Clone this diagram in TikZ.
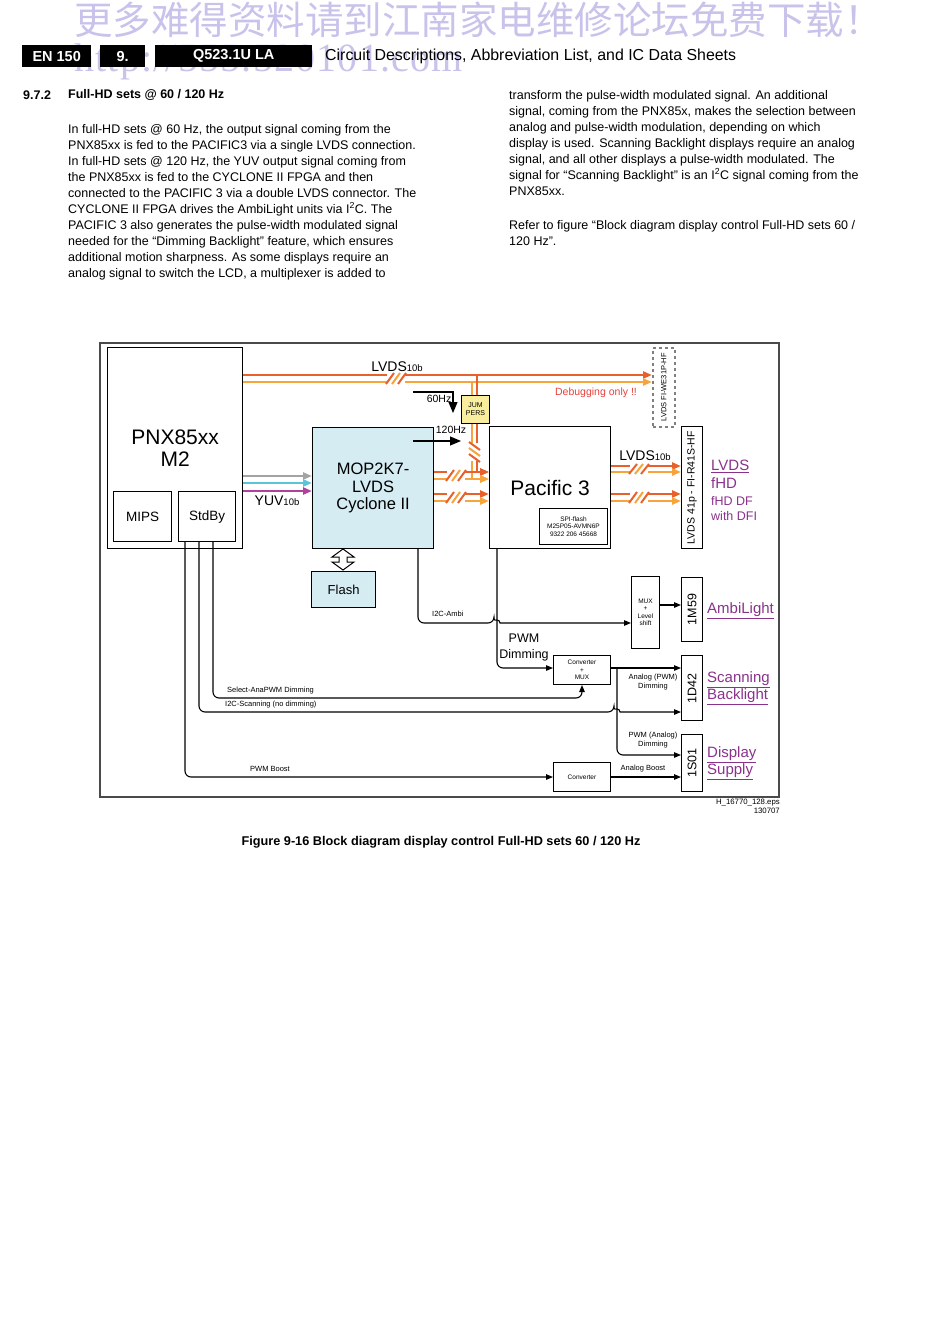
\documentclass[tikz,border=0pt]{standalone}
\usepackage{fontspec}
\setmainfont{Liberation Sans}
\newfontfamily\cjkfont{Noto Sans CJK SC}
\newfontfamily\wmfont[LetterSpace=3]{Liberation Serif}
\usetikzlibrary{arrows.meta,calc,positioning}
\definecolor{lvred}{HTML}{E8612C}
\definecolor{lvorg}{HTML}{F6A43B}
\definecolor{mopblue}{HTML}{D5ECF3}
\definecolor{jmpyel}{HTML}{F8EE9E}
\definecolor{linkpurple}{HTML}{8A318C}
\definecolor{dbgred}{HTML}{E5403A}
\definecolor{yuvgray}{HTML}{A3A3A3}
\definecolor{yuvcyan}{HTML}{5CC4DA}
\definecolor{yuvmag}{HTML}{B0429E}
\definecolor{wmark}{HTML}{C9C2EB}
\definecolor{framegray}{HTML}{4A4A4A}

% bus break marks on a double line (x, upper y, lower y)
\newcommand{\buscut}[3]{%
  \fill[white] (#1-9,#2-2) rectangle (#1+9,#3+2);
  \foreach \dx/\cc in {-6/lvred,0/lvorg,6/lvred}
    \draw[\cc, line width=2pt] (#1+\dx-4,#3+2) -- (#1+\dx+4,#2-2);
}
% same for a vertical double line (left x, right x, y)
\newcommand{\vbuscut}[3]{%
  \fill[white] (#1-2,#3-9) rectangle (#2+2,#3+9);
  \foreach \dy/\cc in {-6/lvred,0/lvorg,6/lvred}
    \draw[\cc, line width=2pt] (#1-3,#3+\dy-4) -- (#2+3,#3+\dy+4);
}

\begin{document}
\begin{tikzpicture}[x=1pt, y=-1pt,
  blk/.style={draw, line width=1.2pt, anchor=north west, inner sep=0pt, align=center},
  sig/.style={line width=1.1pt, rounded corners=6pt},
  tip/.style={-{Triangle[length=7pt,width=5.5pt]}},
  bigtip/.style={-{Triangle[length=11pt,width=9pt]}},
  lvr/.style={draw=lvred, line width=2.3pt},
  lvo/.style={draw=lvorg, line width=2.3pt},
  bustip/.style={-{Triangle[length=9pt,width=7pt]}},
  lbl/.style={inner sep=0pt, font=\fontsize{7.5}{9}\selectfont},
  tiny/.style={font=\fontsize{6.5}{7.5}\selectfont},
  purp/.style={text=linkpurple, anchor=west, inner sep=0pt, font=\fontsize{15}{15}\selectfont},
  hdbox/.style={fill=black, text=white, anchor=north west, inner sep=0pt, minimum height=22,
    font=\bfseries\fontsize{14.5}{14.5}\selectfont},
  body/.style={anchor=north west, inner sep=0pt, align=left, font=\fontsize{12.5}{16}\selectfont}
]
\useasboundingbox (0,0) rectangle (950,1343);

% watermark
\node[anchor=west, inner sep=0pt, text=wmark, font=\cjkfont\fontsize{38.5}{38.5}\selectfont] (wmcn) at (74,20) {更多难得资料请到江南家电维修论坛免费下载！};
\node[anchor=west, inner sep=0pt, text=wmark, font=\wmfont\fontsize{40}{40}\selectfont] (wmurl) at (74,62) {http://555.520101.com};

% page header
\node[hdbox, minimum width=69] (pgno) at (22,45) {EN 150};
\node[hdbox, minimum width=45] (chap) at (100,45) {9.};
\node[hdbox, minimum width=157] (model) at (155,45) {Q523.1U LA};
\node[anchor=west, inner sep=0pt, font=\fontsize{15.9}{16}\selectfont] (title) at (325,56) {Circuit Descriptions, Abbreviation List, and IC Data Sheets};

\node[anchor=west, inner sep=0pt, font=\bfseries\fontsize{12.5}{13}\selectfont] (secno) at (23,95) {9.7.2};
\node[anchor=west, inner sep=0pt, font=\bfseries\fontsize{12.5}{13}\selectfont] (sectitle) at (68,95) {Full-HD sets @ 60 / 120 Hz};

\node[body] (txtleft) at (68,124) {In full-HD sets @ 60 Hz, the output signal coming from the\\
PNX85xx is fed to the PACIFIC3 via a single LVDS connection.\\
In full-HD sets @ 120 Hz, the YUV output signal coming from\\
the PNX85xx is fed to the CYCLONE II FPGA and then\\
connected to the PACIFIC 3 via a double LVDS connector. The\\
CYCLONE II FPGA drives the AmbiLight units via I\textsuperscript{2}C. The\\
PACIFIC 3 also generates the pulse-width modulated signal\\
needed for the “Dimming Backlight” feature, which ensures\\
additional motion sharpness. As some displays require an\\
analog signal to switch the LCD, a multiplexer is added to};

\node[body] (txtright) at (509,90) {transform the pulse-width modulated signal. An additional\\
signal, coming from the PNX85x, makes the selection between\\
analog and pulse-width modulation, depending on which\\
display is used. Scanning Backlight displays require an analog\\
signal, and all other displays a pulse-width modulated. The\\
signal for “Scanning Backlight” is an I\textsuperscript{2}C signal coming from the\\
PNX85xx.};
\node[body] (txtref) at (509,220) {Refer to figure “Block diagram display control Full-HD sets 60 /\\
120 Hz”.};

% diagram frame
\draw[framegray, line width=1.2pt] (100,343) rectangle (779,797);

% blocks
\node[blk, minimum width=135, minimum height=201, font=\fontsize{21}{22}\selectfont] (pnx) at (107,347) {PNX85xx\\M2};
\node[blk, minimum width=58, minimum height=50, font=\fontsize{13.5}{14}\selectfont] (mips) at (113,491) {MIPS};
\node[blk, minimum width=57, minimum height=50, font=\fontsize{13.5}{14}\selectfont] (stdby) at (178,491) {StdBy};
\node[blk, fill=mopblue, minimum width=121, minimum height=121, font=\fontsize{16.5}{17.5}\selectfont] (mop) at (312,427) {MOP2K7-\\LVDS\\Cyclone II};
\node[blk, fill=mopblue, minimum width=64, minimum height=36, font=\fontsize{13}{14}\selectfont] (flash) at (311,571) {Flash};
\node[blk, minimum width=121, minimum height=122, font=\fontsize{21}{22}\selectfont] (pac) at (489,426) {Pacific 3};
\node[blk, line width=1pt, minimum width=68, minimum height=36, tiny] (spi) at (539,508) {SPI-flash\\M25P05-AVMN6P\\9322 206 45668};
\node[blk, fill=jmpyel, line width=1pt, minimum width=28, minimum height=28, font=\fontsize{7}{8}\selectfont] (jmp) at (461,395) {JUM\\PERS};
\node[blk, draw=gray, dashed, line width=1.6pt, minimum width=22, minimum height=79,
  label={[rotate=90, font=\fontsize{7.5}{8}\selectfont]center:LVDS FI-WE31P-HF}] (dbgc) at (652,347) {};
\node[blk, minimum width=21, minimum height=122,
  label={[rotate=90, font=\fontsize{10.5}{11}\selectfont]center:LVDS 41p - FI-R41S-HF}] (lvdsc) at (681,426) {};
\node[blk, line width=1pt, minimum width=28, minimum height=72, tiny] (mux) at (631,576) {MUX\\+\\Level\\shift};
\node[blk, minimum width=21, minimum height=64,
  label={[rotate=90, font=\fontsize{12.5}{13}\selectfont]center:1M59}] (amb) at (681,577) {};
\node[blk, line width=1pt, minimum width=57, minimum height=29, tiny] (convmux) at (553,655) {Converter\\+\\MUX};
\node[blk, minimum width=21, minimum height=65,
  label={[rotate=90, font=\fontsize{12.5}{13}\selectfont]center:1D42}] (scan) at (681,655) {};
\node[blk, line width=1pt, minimum width=57, minimum height=29, tiny] (conv) at (553,762) {Converter};
\node[blk, minimum width=21, minimum height=57,
  label={[rotate=90, font=\fontsize{12.5}{13}\selectfont]center:1S01}] (supply) at (681,734) {};

% LVDS busses
\draw[lvr, bustip] (pnx.east |- 0,375) -- (dbgc.west |- 0,375);
\draw[lvo, bustip] (pnx.east |- 0,382) -- (dbgc.west |- 0,382);
\buscut{396}{375}{382}
\draw[lvo] (472,382) -- (jmp.north -| 472,0);
\draw[lvr] (477,375) -- (jmp.north -| 477,0);
\draw[lvr, bustip] (jmp.south -| 477,0) -- (477,472) -- (pac.west |- 0,472);
\draw[lvo, bustip] (jmp.south -| 472,0) -- (472,479) -- (pac.west |- 0,479);
\vbuscut{472}{477}{452}
\draw[lvr, bustip] (mop.east |- 0,472) -- (pac.west |- 0,472);
\draw[lvo, bustip] (mop.east |- 0,479) -- (pac.west |- 0,479);
\buscut{456}{472}{479}
\draw[lvr, bustip] (mop.east |- 0,494) -- (pac.west |- 0,494);
\draw[lvo, bustip] (mop.east |- 0,501) -- (pac.west |- 0,501);
\buscut{456}{494}{501}
\draw[lvr, bustip] (pac.east |- 0,466) -- (lvdsc.west |- 0,466);
\draw[lvo, bustip] (pac.east |- 0,472) -- (lvdsc.west |- 0,472);
\buscut{639}{466}{472}
\draw[lvr, bustip] (pac.east |- 0,494) -- (lvdsc.west |- 0,494);
\draw[lvo, bustip] (pac.east |- 0,501) -- (lvdsc.west |- 0,501);
\buscut{639}{494}{501}
\node[font=\fontsize{14}{14}\selectfont, inner sep=0pt] (lvdstop) at (397,367) {LVDS{\fontsize{9.5}{10}\selectfont 10b}};
\node[font=\fontsize{14}{14}\selectfont, inner sep=0pt] (lvdsout) at (645,456) {LVDS{\fontsize{9.5}{10}\selectfont 10b}};

% YUV
\draw[yuvgray, line width=2.3pt, bustip] (pnx.east |- 0,476) -- (mop.west |- 0,476);
\draw[yuvcyan, line width=2.3pt, bustip] (pnx.east |- 0,483) -- (mop.west |- 0,483);
\draw[yuvmag, line width=2.3pt, bustip] (pnx.east |- 0,491) -- (mop.west |- 0,491);
\node[font=\fontsize{14}{14}\selectfont, inner sep=0pt] (yuv) at (277,501) {YUV{\fontsize{9.5}{10}\selectfont 10b}};

% 60/120 Hz select
\coordinate (hz60) at (413,392);
\coordinate (hz120) at (413,441);
\draw[line width=1.1pt, bigtip] (hz60) -- (453,392) -- (453,413);
\draw[line width=1.1pt, bigtip] (hz120) -- (jmp.west |- hz120);
\node[font=\fontsize{10.5}{11}\selectfont, inner sep=0pt] (l60) at (439,399) {60Hz};
\node[font=\fontsize{10.5}{11}\selectfont, inner sep=0pt] (l120) at (451,430) {120Hz};
\node[text=dbgred, font=\fontsize{10.5}{11}\selectfont, inner sep=0pt] (dbg) at (596,393) {Debugging only !!};

% MOP <-> Flash
\draw[line width=1pt, fill=white] (343,549) -- (354,557) -- (347,557) -- (347,562) -- (354,562) -- (343,570)
  -- (332,562) -- (339,562) -- (339,557) -- (332,557) -- cycle;

% control signals
\draw[sig, tip] (mop.south -| 418,0) -- (418,623) -- (494,623) [sharp corners] arc[start angle=180, end angle=360, radius=3] -- (mux.west |- 0,623);
\node[lbl, anchor=west] (li2c) at (432,614) {I2C-Ambi};
\draw[sig, tip] (mux.east |- 0,605) -- (amb.west |- 0,605);
\draw[sig, tip] (pac.south -| 497,0) -- (497,668) -- (convmux.west |- 0,668);
\node[align=center, inner sep=0pt, font=\fontsize{12.5}{16}\selectfont] (lpwm) at (524,647) {PWM\\Dimming};
\draw[sig, tip] (convmux.east |- 0,668) -- (scan.west |- 0,668);
\draw[sig, tip] (617,668) -- (617,755) -- (supply.west |- 0,755);
\node[lbl, align=center] (lana) at (653,682) {Analog (PWM)\\Dimming};
\node[lbl, align=center] (lpwma) at (653,740) {PWM (Analog)\\Dimming};
\draw[sig, tip] (stdby.south -| 213,0) -- (213,698) -- (582,698) -- (convmux.south -| 582,0);
\node[lbl, anchor=west] (lsel) at (227,691) {Select-AnaPWM Dimming};
\draw[sig, tip] (stdby.south -| 199,0) -- (199,712) -- (614,712) [sharp corners] arc[start angle=180, end angle=360, radius=3] -- (scan.west |- 0,712);
\node[lbl, anchor=west] (lscn) at (225,705) {I2C-Scanning (no dimming)};
\draw[sig, tip] (stdby.south -| 185,0) -- (185,777) -- (conv.west |- 0,777);
\node[lbl, anchor=west] (lboost) at (250,769) {PWM Boost};
\draw[sig, tip] (conv.east |- 0,777) -- (supply.west |- 0,777);
\node[lbl] (lanab) at (643,769) {Analog Boost};

% display side labels
\node[purp] (tlvds) at (711,466) {\underline{LVDS}};
\node[purp] (tfhd) at (711,483) {fHD};
\node[purp, font=\fontsize{12.5}{13}\selectfont] (tfhddf) at (711,501) {fHD DF};
\node[purp, font=\fontsize{12.5}{13}\selectfont] (tdfi) at (711,516) {with DFI};
\node[purp] (tamb) at (707,611) {\underline{AmbiLight}};
\node[purp] (tscan) at (707,680) {\underline{Scanning}};
\node[purp] (tback) at (707,697) {\underline{Backlight}};
\node[purp] (tdisp) at (707,755) {\underline{Display}};
\node[purp] (tsup) at (707,772) {\underline{Supply}};

\node[anchor=north east, align=right, inner sep=0pt, font=\fontsize{7.8}{9}\selectfont] (eps) at (780,799) {H\_16770\_128.eps\\130707};
\node[inner sep=0pt, font=\bfseries\fontsize{12.7}{13}\selectfont] (caption) at (441,842) {Figure 9-16 Block diagram display control Full-HD sets 60 / 120 Hz};
\end{tikzpicture}
\end{document}
